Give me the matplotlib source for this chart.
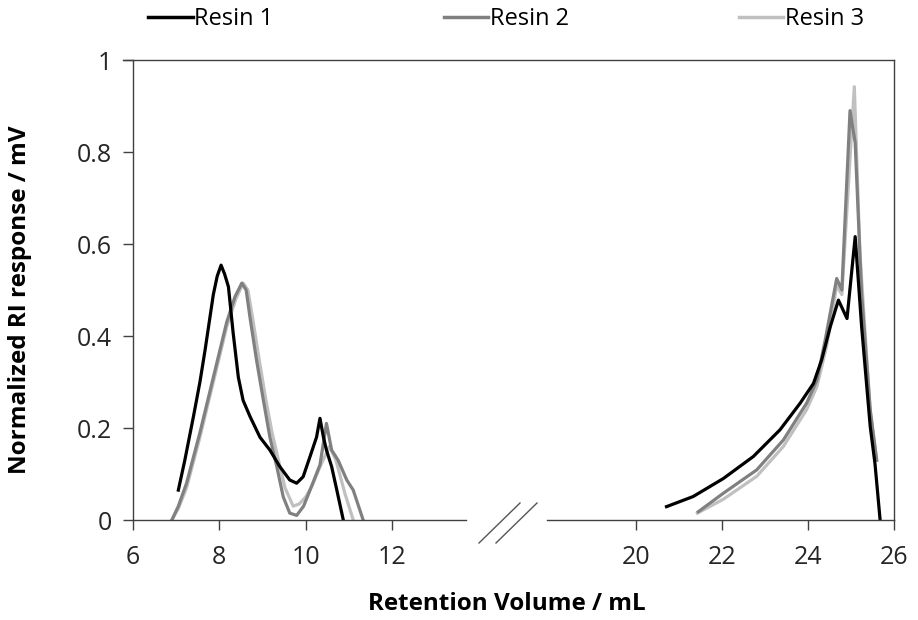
import matplotlib
matplotlib.use("Agg")
import matplotlib.pyplot as plt
from matplotlib.lines import Line2D

plt.rcParams['font.family'] = ['Open Sans', 'DejaVu Sans']

# ---------------- data ----------------
series_names = ["Resin 1", "Resin 2", "Resin 3"]
series_colors = ["#000000", "#808080", "#c0c0c0"]

# left block (polymer peaks)
r1_left_x = [7.05, 7.2, 7.40, 7.55, 7.67, 7.86, 7.95, 8.04, 8.12, 8.21, 8.32, 8.44, 8.55, 8.71, 8.94,
             9.17, 9.40, 9.63, 9.79, 9.94, 10.10, 10.25, 10.33, 10.41, 10.48, 10.60, 10.72, 10.87]
r1_left_y = [0.065, 0.13, 0.225, 0.30, 0.37, 0.49, 0.53, 0.554, 0.535, 0.507, 0.406, 0.31, 0.26, 0.225, 0.18,
             0.152, 0.116, 0.087, 0.08, 0.094, 0.138, 0.18, 0.221, 0.18, 0.152, 0.116, 0.065, 0.0]

r2_left_x = [6.9, 7.05, 7.24, 7.55, 7.86, 8.17, 8.36, 8.52, 8.62, 8.71, 8.86, 9.02, 9.17, 9.33, 9.48,
             9.63, 9.79, 9.95, 10.10, 10.33, 10.48, 10.60, 10.75, 10.95, 11.10, 11.33]
r2_left_y = [0.0, 0.03, 0.08, 0.19, 0.31, 0.43, 0.485, 0.515, 0.50, 0.44, 0.348, 0.26, 0.18, 0.116, 0.05,
             0.015, 0.01, 0.03, 0.065, 0.12, 0.21, 0.152, 0.13, 0.087, 0.065, 0.0]

r3_left_x = [6.9, 7.05, 7.24, 7.55, 7.86, 8.17, 8.38, 8.55, 8.66, 8.76, 8.92, 9.07, 9.22, 9.38, 9.52,
             9.71, 9.85, 10.0, 10.15, 10.35, 10.55, 10.70, 10.90, 11.10]
r3_left_y = [0.0, 0.025, 0.07, 0.18, 0.30, 0.42, 0.48, 0.515, 0.50, 0.445, 0.35, 0.265, 0.19, 0.125, 0.07,
             0.03, 0.035, 0.05, 0.075, 0.12, 0.16, 0.13, 0.06, 0.0]

# right block (low molecular weight peaks)
r1_right_x = [20.70, 21.32, 22.02, 22.72, 23.34, 23.81, 24.12, 24.31, 24.51, 24.70, 24.90, 25.09,
              25.24, 25.44, 25.55, 25.67]
r1_right_y = [0.029, 0.051, 0.09, 0.138, 0.196, 0.254, 0.297, 0.348, 0.42, 0.478, 0.438, 0.616,
              0.42, 0.203, 0.123, 0.0]

r2_right_x = [21.44, 22.02, 22.80, 23.42, 23.96, 24.20, 24.39, 24.66, 24.78, 24.97, 25.09, 25.24,
              25.44, 25.59]
r2_right_y = [0.018, 0.058, 0.109, 0.174, 0.254, 0.304, 0.39, 0.525, 0.50, 0.89, 0.82, 0.49,
              0.24, 0.13]

r3_right_x = [21.42, 22.02, 22.80, 23.42, 23.96, 24.20, 24.43, 24.66, 24.78, 25.07, 25.20, 25.44, 25.59]
r3_right_y = [0.015, 0.045, 0.095, 0.16, 0.24, 0.29, 0.38, 0.51, 0.49, 0.942, 0.58, 0.235, 0.13]

left_ticks = [6, 8, 10, 12]
right_ticks = [20, 22, 24, 26]
y_ticks = [0, 0.2, 0.4, 0.6, 0.8, 1]
y_tick_labels = ["0", "0.2", "0.4", "0.6", "0.8", "1"]

x_label = "Retention Volume / mL"
y_label = "Normalized RI response / mV"

# ---------------- figure ----------------
W, H = 918, 620
fig = plt.figure(figsize=(W / 100, H / 100), dpi=100)

def fx(px):
    return px / W

def fy(py):
    return 1 - py / H

y_bottom, y_top = 520, 60
ax1 = fig.add_axes([fx(133), fy(y_bottom), fx(465.5) - fx(133), fy(y_top) - fy(y_bottom)])
ax2 = fig.add_axes([fx(547), fy(y_bottom), fx(894.3) - fx(547), fy(y_top) - fy(y_bottom)])

left_data = [(r1_left_x, r1_left_y), (r2_left_x, r2_left_y), (r3_left_x, r3_left_y)]
right_data = [(r1_right_x, r1_right_y), (r2_right_x, r2_right_y), (r3_right_x, r3_right_y)]

lw = 2.3
handles = []
# draw light first so black stays on top
for i in [2, 1, 0]:
    xs, ys = left_data[i]
    ax1.plot(xs, ys, color=series_colors[i], lw=lw, solid_joinstyle='round')
    xs, ys = right_data[i]
    ax2.plot(xs, ys, color=series_colors[i], lw=lw, solid_joinstyle='round')
for i in range(3):
    handles.append(Line2D([], [], color=series_colors[i], lw=2.5, label=series_names[i]))

ax1.set_xlim(6, 13.7)
ax2.set_xlim(17.92, 26)
for ax in (ax1, ax2):
    ax.set_ylim(0, 1)
    ax.spines['top'].set_visible(False)
    for s in ax.spines.values():
        s.set_color('#404040')
        s.set_linewidth(1.0)
    ax.tick_params(axis='both', direction='out', length=7, width=1.0, color='#404040',
                   labelsize=18, labelcolor='#262626')
    ax.tick_params(axis='x', pad=11)
    ax.tick_params(axis='y', pad=8)

ax1.spines['right'].set_visible(False)
ax2.spines['left'].set_visible(False)
ax1.set_xticks(left_ticks)
ax1.set_xticklabels([str(t) for t in left_ticks])
ax2.set_xticks(right_ticks)
ax2.set_xticklabels([str(t) for t in right_ticks])
ax1.set_yticks(y_ticks)
ax1.set_yticklabels(y_tick_labels)
ax2.set_yticks([])

# top border across the whole plot area
fig.add_artist(Line2D([fx(123), fx(894.3)], [fy(60), fy(60)], color='#404040', lw=1.0))

# break marks
for dx in (0, 17):
    fig.add_artist(Line2D([fx(479 + dx), fx(520 + dx)], [fy(543), fy(503)], color='#555555', lw=1.0))

fig.text(fx(507), fy(604), x_label, ha='center', va='center', fontsize=17.5, fontweight='bold')
fig.text(fx(20), fy(300), y_label, ha='center', va='center', rotation=90, fontsize=17.5, fontweight='bold')

fig.legend(handles=handles, loc='center', bbox_to_anchor=(fx(506), fy(19)), ncol=3, frameon=False,
           fontsize=17, handlelength=1.9, handletextpad=0.05, columnspacing=7.2,
           borderaxespad=0, borderpad=0)

fig.savefig("out.png", dpi=100)
